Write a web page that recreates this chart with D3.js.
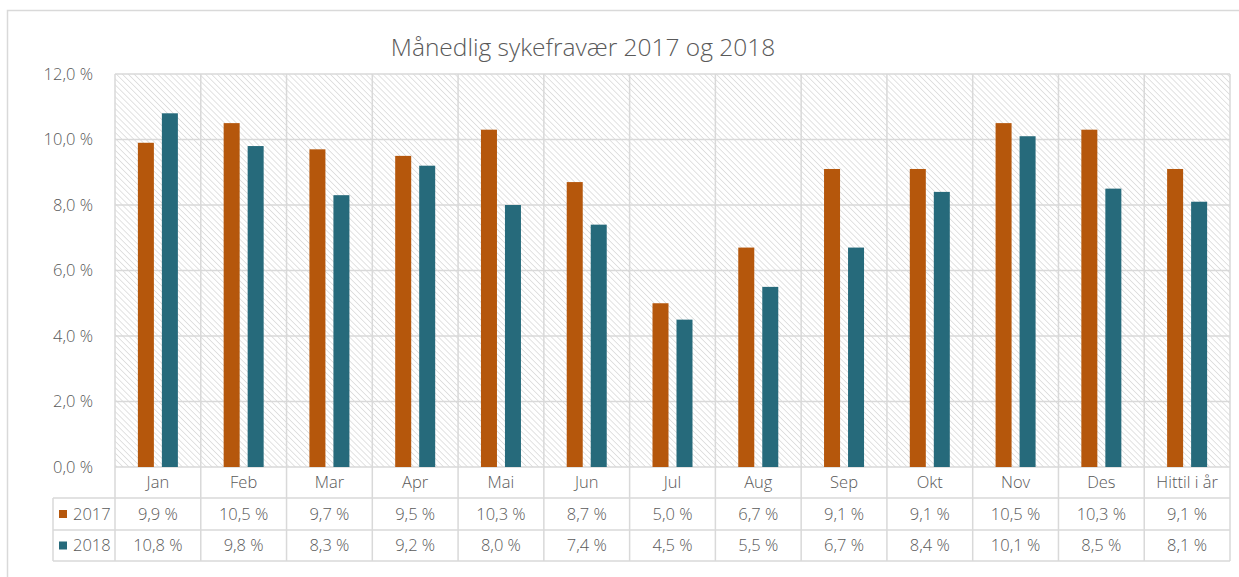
<!DOCTYPE html>
<html>
<head>
<meta charset="utf-8">
<script src="https://cdn.jsdelivr.net/npm/d3@7"></script>
<style>
  html, body { margin: 0; padding: 0; background: #fff; }
  svg { display: block; }
  text { font-family: "Open Sans", "Noto Sans", sans-serif; font-weight: 300; fill: #595959; }
</style>
</head>
<body>
<svg id="chart" width="1239" height="577"></svg>
<script>
const title = "Månedlig sykefravær 2017 og 2018";
const categories = ["Jan","Feb","Mar","Apr","Mai","Jun","Jul","Aug","Sep","Okt","Nov","Des","Hittil i år"];
const seriesNames = ["2017","2018"];
const values2017 = [9.9,10.5,9.7,9.5,10.3,8.7,5.0,6.7,9.1,9.1,10.5,10.3,9.1];
const values2018 = [10.8,9.8,8.3,9.2,8.0,7.4,4.5,5.5,6.7,8.4,10.1,8.5,8.1];
const yTicks = [0,2,4,6,8,10,12];
const colors = ["#B5570C","#266A7B"];

const seriesValues = [values2017, values2018];
const locale = d3.formatLocale({decimal: ",", thousands: " ", grouping: [3], currency: ["", ""]});
const fmt = v => locale.format(".1f")(v) + " %";

const svg = d3.select("#chart");
const pLeft = 115, pRight = 1230, pTop = 74, pBottom = 467;
const rowH = [pBottom, 498, 530, 561];
const legendLeft = 53;
const gridColor = "#d9d9d9";
const fs = 16.5;

// outer frame
svg.append("path").attr("d", "M7.5,577 V10.5 H1239").attr("fill","none").attr("stroke", gridColor).attr("stroke-width", 1.5);

// hatch pattern
const defs = svg.append("defs");
const pat = defs.append("pattern").attr("id","hatch").attr("patternUnits","userSpaceOnUse")
  .attr("width", 4.2).attr("height", 4.2).attr("patternTransform","rotate(-45)");
pat.append("rect").attr("width",4.2).attr("height",4.2).attr("fill","#fff");
pat.append("line").attr("x1",0).attr("y1",0).attr("x2",0).attr("y2",4.2).attr("stroke","#dcdcdc").attr("stroke-width",1.6);

const x = d3.scaleBand().domain(categories).range([pLeft, pRight]);
const y = d3.scaleLinear().domain([0, 12]).range([pBottom, pTop]);
const xs = d3.scaleBand().domain(seriesNames)
  .range([x.bandwidth()/2 - 20, x.bandwidth()/2 + 20]).paddingInner(1/3);

svg.append("rect").attr("x", pLeft).attr("y", pTop).attr("width", pRight-pLeft).attr("height", pBottom-pTop).attr("fill","url(#hatch)");

// horizontal gridlines
svg.append("g").selectAll("line").data(yTicks).join("line")
  .attr("x1", pLeft).attr("x2", pRight).attr("y1", d => y(d)).attr("y2", d => y(d))
  .attr("stroke", gridColor).attr("stroke-width", 1.5);

// vertical gridlines (category boundaries through table)
const bounds = categories.map(c => x(c)).concat([pRight]);
svg.append("g").selectAll("line").data(bounds).join("line")
  .attr("x1", d => d).attr("x2", d => d).attr("y1", pTop).attr("y2", rowH[3])
  .attr("stroke", gridColor).attr("stroke-width", 1.5);

// table horizontal lines
svg.append("g").selectAll("line").data(rowH.slice(1)).join("line")
  .attr("x1", legendLeft).attr("x2", pRight).attr("y1", d => d).attr("y2", d => d)
  .attr("stroke", gridColor).attr("stroke-width", 1.5);
svg.append("line").attr("x1", legendLeft).attr("x2", legendLeft).attr("y1", rowH[1]).attr("y2", rowH[3])
  .attr("stroke", gridColor).attr("stroke-width", 1.5);

// bars
seriesNames.forEach((s, i) => {
  svg.append("g").selectAll("rect").data(categories).join("rect")
    .attr("x", c => x(c) + xs(s))
    .attr("width", xs.bandwidth())
    .attr("y", (c, j) => y(seriesValues[i][j]))
    .attr("height", (c, j) => y(0) - y(seriesValues[i][j]))
    .attr("fill", colors[i]);
});

// y-axis labels
svg.append("g").selectAll("text").data(yTicks).join("text")
  .attr("x", 93).attr("y", d => y(d)).attr("dy", "0.35em")
  .attr("text-anchor","end").attr("font-size", fs).text(d => fmt(d));

// category labels
svg.append("g").selectAll("text").data(categories).join("text")
  .attr("x", c => x(c) + x.bandwidth()/2).attr("y", (rowH[0]+rowH[1])/2).attr("dy","0.35em")
  .attr("text-anchor","middle").attr("font-size", fs).text(c => c);

// table values + legend
seriesNames.forEach((s, i) => {
  const cy = (rowH[i+1] + rowH[i+2]) / 2;
  svg.append("g").selectAll("text").data(categories).join("text")
    .attr("x", c => x(c) + x.bandwidth()/2).attr("y", cy).attr("dy","0.35em")
    .attr("text-anchor","middle").attr("font-size", fs)
    .text((c, j) => fmt(seriesValues[i][j]));
  svg.append("rect").attr("x", 59).attr("y", cy - 4).attr("width", 8).attr("height", 8).attr("fill", colors[i]);
  svg.append("text").attr("x", 73).attr("y", cy).attr("dy","0.35em").attr("font-size", fs).text(s);
});

// title
svg.append("text").attr("x", 583).attr("y", 56).attr("text-anchor","middle")
  .attr("font-size", 24.5).text(title);
</script>
</body>
</html>
